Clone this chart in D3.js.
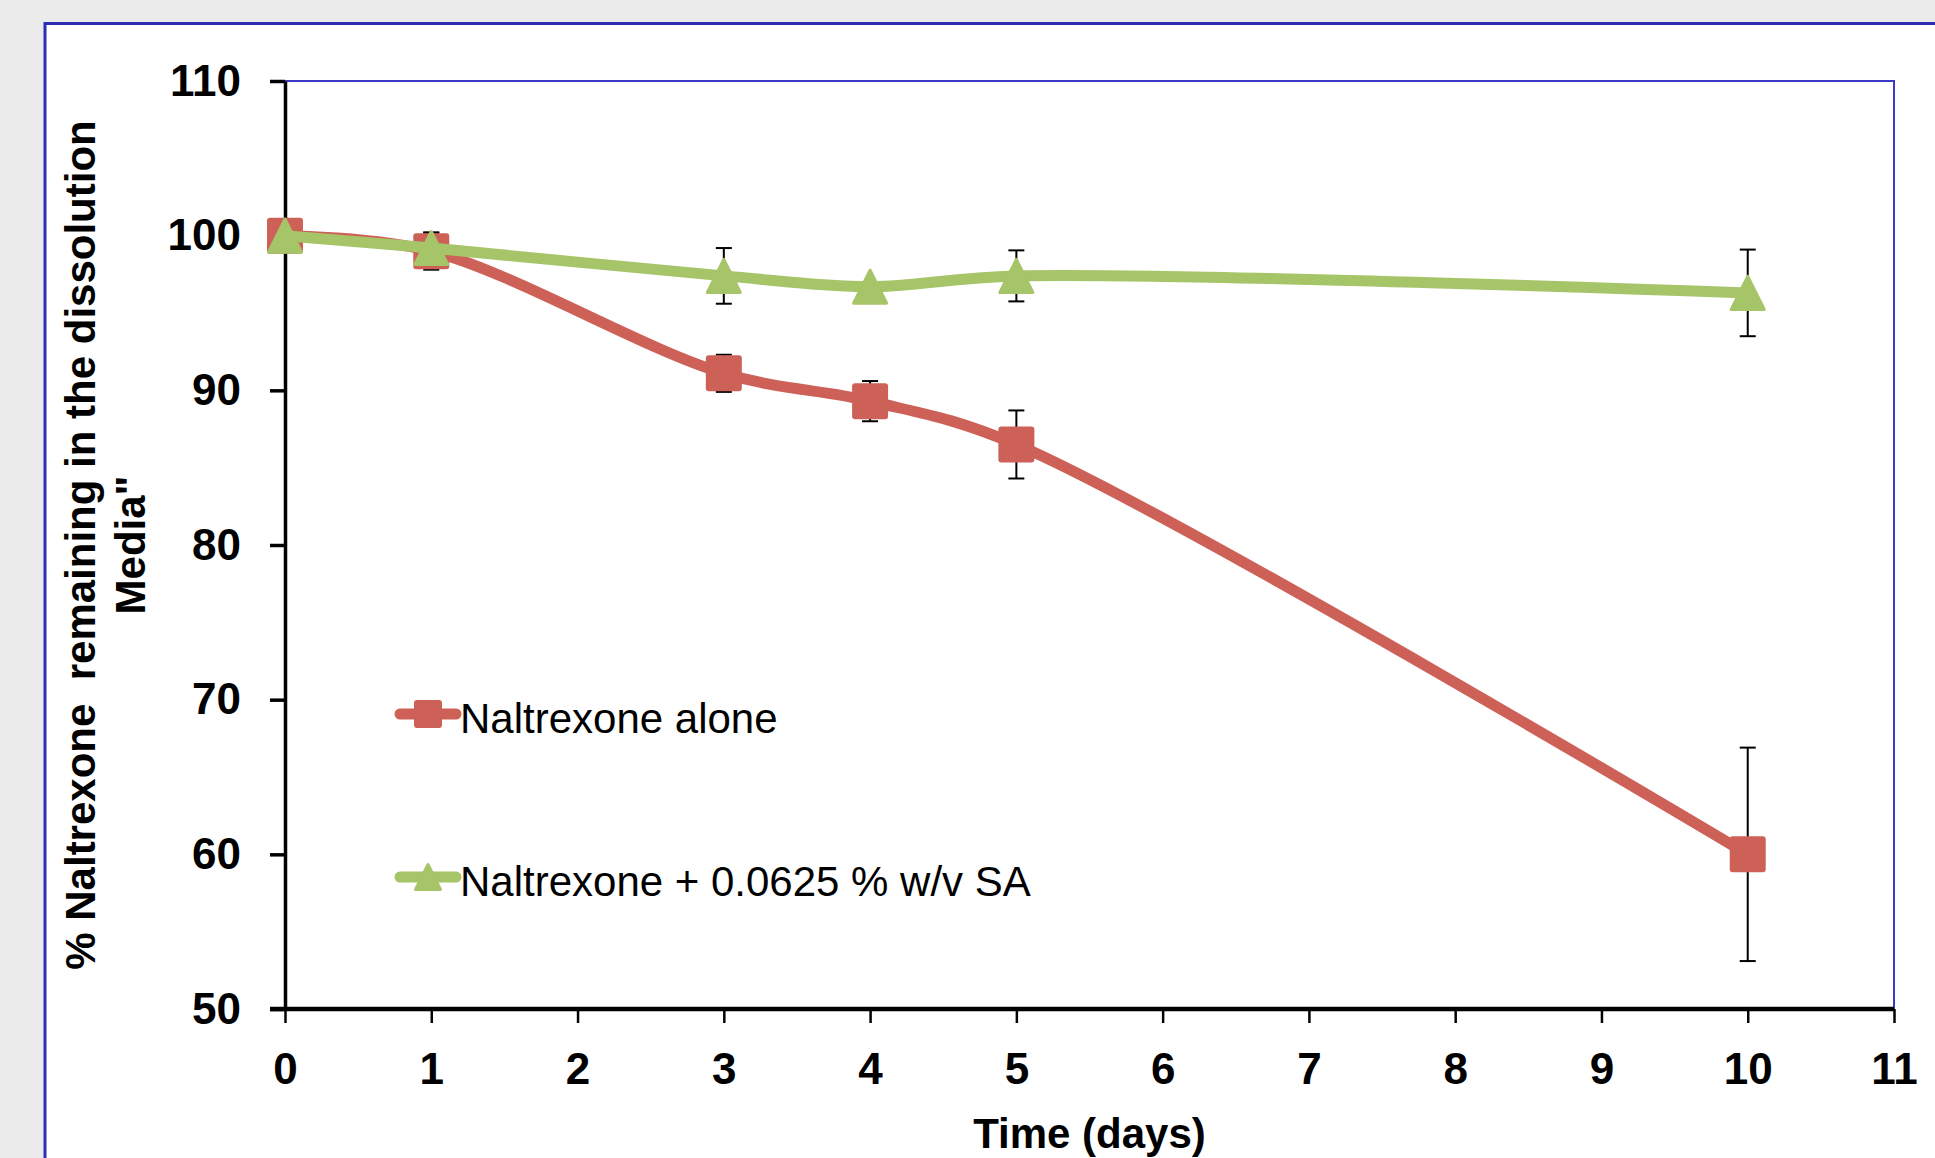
<!DOCTYPE html>
<html>
<head>
<meta charset="utf-8">
<script src="https://cdn.jsdelivr.net/npm/d3@7/dist/d3.min.js"></script>
<style>
  html, body { margin: 0; padding: 0; background: #ebebeb; overflow: hidden; }
  svg { display: block; }
  text { font-family: "Liberation Sans", Arial, sans-serif; }
</style>
</head>
<body>
<svg id="chart" width="1935" height="1158"></svg>
<script>
// Sampling times (days)
const days = [0, 1, 3, 4, 5, 10];
// % naltrexone remaining, drug alone
const aloneValues = [100, 99.0, 91.1, 89.3, 86.5, 60.0];
const aloneErrors = [0, 1.2, 1.2, 1.3, 2.2, 6.9];
// % naltrexone remaining with 0.0625 % w/v SA
const saValues = [100, 99.2, 97.4, 96.7, 97.4, 96.3];
const saErrors = [0, 1.0, 1.8, 0.3, 1.65, 2.8];
// Axis ticks
const xTicks = [0, 1, 2, 3, 4, 5, 6, 7, 8, 9, 10, 11];
const yTicks = [50, 60, 70, 80, 90, 100, 110];
const seriesNames = ["Naltrexone alone", "Naltrexone + 0.0625 % w/v SA"];

const RED = "#cd6158";
const GREEN = "#a6c468";
const BLUE = "#2c2cb4";

const svg = d3.select("#chart");

// White chart panel with blue frame, running off the right and bottom edges
svg.append("rect")
  .attr("x", 45).attr("y", 23.5)
  .attr("width", 2000).attr("height", 1300)
  .attr("fill", "#ffffff")
  .attr("stroke", BLUE).attr("stroke-width", 3);

const plot = { left: 285, right: 1894, top: 81, bottom: 1009 };

const x = d3.scaleLinear().domain([0, 11]).range([plot.left, plot.right]);
const y = d3.scaleLinear().domain([50, 110]).range([plot.bottom, plot.top]);

// Plot-area frame (top and right edges)
svg.append("path")
  .attr("d", `M${plot.left},${plot.top}H${plot.right}V${plot.bottom}`)
  .attr("fill", "none")
  .attr("stroke", "#3a3ac4").attr("stroke-width", 2);

// Y axis
const yAxis = svg.append("g")
  .attr("transform", `translate(${plot.left},0)`)
  .call(d3.axisLeft(y).tickValues(yTicks).tickSizeInner(15).tickSizeOuter(0).tickPadding(29));
yAxis.select(".domain").attr("stroke", "#000").attr("stroke-width", 3.5);
yAxis.selectAll(".tick line").attr("stroke", "#000").attr("stroke-width", 3.5);
yAxis.selectAll(".tick text")
  .attr("font-family", "'Liberation Sans', Arial, sans-serif")
  .attr("font-size", 44).attr("font-weight", "bold").attr("fill", "#000");

// X axis
const xAxis = svg.append("g")
  .attr("transform", `translate(0,${plot.bottom})`)
  .call(d3.axisBottom(x).tickValues(xTicks).tickSizeInner(14).tickSizeOuter(0).tickPadding(30));
xAxis.select(".domain").attr("stroke", "#000").attr("stroke-width", 4.5)
  .attr("d", `M${plot.left - 15},0H${plot.right}`);
xAxis.selectAll(".tick line").attr("stroke", "#000").attr("stroke-width", 2.5);
xAxis.selectAll(".tick text")
  .attr("font-family", "'Liberation Sans', Arial, sans-serif")
  .attr("font-size", 44).attr("font-weight", "bold").attr("fill", "#000");

// Axis titles
svg.append("text")
  .attr("x", (plot.left + plot.right) / 2).attr("y", 1148)
  .attr("text-anchor", "middle")
  .attr("font-size", 42).attr("font-weight", "bold")
  .text("Time (days)");

const yTitle = svg.append("text")
  .attr("transform", `translate(95,${(plot.top + plot.bottom) / 2}) rotate(-90)`)
  .attr("text-anchor", "middle")
  .attr("font-size", 42).attr("font-weight", "bold")
  .style("white-space", "pre");
yTitle.append("tspan").attr("x", 0).attr("y", 0).text("% Naltrexone  remaining in the dissolution");
yTitle.append("tspan").attr("x", 0).attr("y", 50).text("Media\"");

// Series definitions
const series = [
  { name: seriesNames[0], values: aloneValues, errors: aloneErrors, color: RED, shape: "square" },
  { name: seriesNames[1], values: saValues, errors: saErrors, color: GREEN, shape: "triangle" }
];

// Smoothed connecting lines (centripetal Catmull-Rom avoids kinks at uneven spacing)
const lineGen = d3.line()
  .x(d => x(d.day))
  .y(d => y(d.value))
  .curve(d3.curveCatmullRom.alpha(0.5));

function drawMarker(g, shape, cx, cy, size, color) {
  if (shape === "square") {
    g.append("rect")
      .attr("x", cx - size / 2).attr("y", cy - size / 2)
      .attr("width", size).attr("height", size)
      .attr("rx", 3).attr("fill", color);
  } else {
    const s = size - 3;
    g.append("path")
      .attr("d", `M${cx},${cy - s / 2}L${cx + s / 2},${cy + s / 2}L${cx - s / 2},${cy + s / 2}Z`)
      .attr("fill", color).attr("stroke", color)
      .attr("stroke-width", 3).attr("stroke-linejoin", "round");
  }
}

// Error bars sit underneath the lines and markers
const errLayer = svg.append("g");
series.forEach(s => {
  s.values.forEach((v, i) => {
    const e = s.errors[i];
    if (!e) return;
    const cx = x(days[i]);
    const y0 = y(v - e), y1 = y(v + e);
    errLayer.append("line").attr("x1", cx).attr("x2", cx).attr("y1", y0).attr("y2", y1)
      .attr("stroke", "#000").attr("stroke-width", 2);
    [y0, y1].forEach(yy => errLayer.append("line")
      .attr("x1", cx - 8).attr("x2", cx + 8).attr("y1", yy).attr("y2", yy)
      .attr("stroke", "#000").attr("stroke-width", 2));
  });
});

// Lines and markers, one series after the other
series.forEach(s => {
  const g = svg.append("g");
  const pts = days.map((d, i) => ({ day: d, value: s.values[i] }));
  g.append("path")
    .attr("d", lineGen(pts))
    .attr("fill", "none").attr("stroke", s.color)
    .attr("stroke-width", 11).attr("stroke-linecap", "round").attr("stroke-linejoin", "round");
  pts.forEach(p => drawMarker(g, s.shape, x(p.day), y(p.value), 36, s.color));
});

// Legend
const legendRows = [714, 877];
series.forEach((s, i) => {
  const g = svg.append("g");
  const ly = legendRows[i];
  g.append("line").attr("x1", 400).attr("x2", 456).attr("y1", ly).attr("y2", ly)
    .attr("stroke", s.color).attr("stroke-width", 11).attr("stroke-linecap", "round");
  drawMarker(g, s.shape, 428, ly, 28, s.color);
  g.append("text").attr("x", 460).attr("y", ly + 19)
    .attr("font-size", 42).attr("fill", "#000")
    .text(s.name);
});
</script>
</body>
</html>
